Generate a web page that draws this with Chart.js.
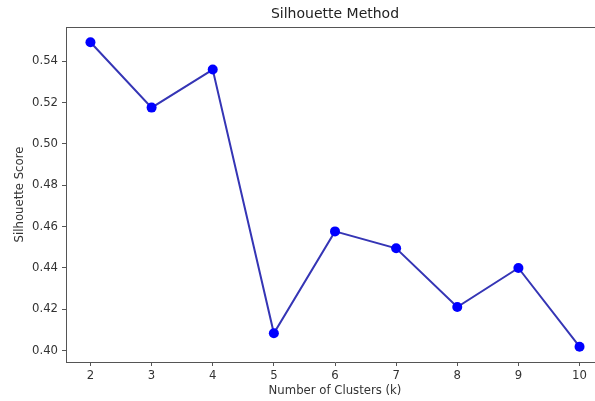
<!DOCTYPE html>
<html>
<head>
<meta charset="utf-8">
<title>Silhouette Method</title>
<script src="https://cdn.jsdelivr.net/npm/chart.js@4"></script>
<style>
  html, body { margin: 0; padding: 0; overflow: hidden; background: #fff; }
  #wrap { width: 612px; height: 401px; }
</style>
</head>
<body>
<div id="wrap"><canvas id="silChart" width="612" height="401"></canvas></div>
<script>
// k values and scores
const kValues = [2, 3, 4, 5, 6, 7, 8, 9, 10];
const scores = [0.5492, 0.5176, 0.5360, 0.4084, 0.4577, 0.4495, 0.4211, 0.4400, 0.4019];
const yTicks = [0.40, 0.42, 0.44, 0.46, 0.48, 0.50, 0.52, 0.54];

const axisColor = "#555";
const textColor = "#333";
const font = { family: "DejaVu Sans", size: 11.7 };

// top spine only; the right one sits past the window edge in the reference
const frame = {
  id: "frame",
  afterDraw(chart) {
    const { ctx, chartArea: a } = chart;
    ctx.save();
    ctx.strokeStyle = axisColor;
    ctx.lineWidth = 1;
    ctx.beginPath();
    ctx.moveTo(a.left, a.top + 0.5);
    ctx.lineTo(a.right, a.top + 0.5);
    ctx.stroke();
    ctx.restore();
  }
};

const ctx = document.getElementById("silChart").getContext("2d");
new Chart(ctx, {
  type: "line",
  data: {
    datasets: [{
      label: "Silhouette Score",
      data: kValues.map((k, i) => ({ x: k, y: scores[i] })),
      borderColor: "#3535b5",
      borderWidth: 2,
      backgroundColor: "#0000ff",
      pointBackgroundColor: "#0000ff",
      pointBorderColor: "#0000ff",
      pointRadius: 5,
      pointBorderWidth: 0,
      tension: 0,
      fill: false
    }]
  },
  options: {
    responsive: false,
    animation: false,
    layout: { padding: { left: 0, right: 8, top: 0, bottom: 0 } },
    plugins: {
      legend: { display: false },
      tooltip: { enabled: false },
      title: {
        display: true,
        text: "Silhouette Method",
        fullSize: false,
        color: "#222",
        font: { family: "DejaVu Sans", size: 14, weight: "normal" },
        padding: { top: 6, bottom: 4.2 }
      }
    },
    scales: {
      x: {
        type: "linear",
        min: 1.6,
        max: 10.4,
        afterBuildTicks: s => { s.ticks = kValues.map(v => ({ value: v })); },
        afterFit: s => { s.height = 39; },
        ticks: { color: textColor, font, padding: 3, maxRotation: 0, callback: v => String(v) },
        grid: { display: true, drawOnChartArea: false, drawTicks: true, tickLength: 4, color: axisColor },
        border: { display: true, color: axisColor, width: 1 },
        title: {
          display: true,
          text: "Number of Clusters (k)",
          color: textColor,
          font,
          padding: { top: 0, bottom: 3 }
        }
      },
      y: {
        min: 0.3945,
        max: 0.5566,
        afterBuildTicks: s => { s.ticks = yTicks.map(v => ({ value: v })); },
        afterFit: s => { s.width = 66; },
        ticks: { color: textColor, font, padding: 4, callback: v => v.toFixed(2) },
        grid: { display: true, drawOnChartArea: false, drawTicks: true, tickLength: 4, color: axisColor },
        border: { display: true, color: axisColor, width: 1 },
        title: {
          display: true,
          text: "Silhouette Score",
          color: textColor,
          font,
          padding: { top: 13, bottom: 0 }
        }
      }
    }
  },
  plugins: [frame]
});
</script>
</body>
</html>
